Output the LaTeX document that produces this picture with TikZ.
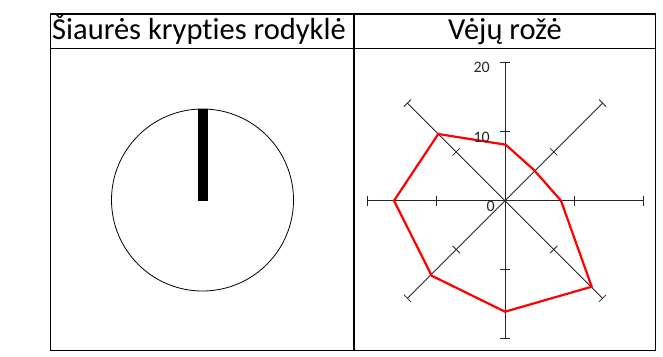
\documentclass[tikz,border=0pt]{standalone}
\usepackage{fontspec}
\setmainfont{Carlito}[Ligatures={NoCommon}]
\tikzset{
  grid line/.style={line width=1.3pt, black},
  head text/.style={font=\fontsize{30.5}{31}\selectfont, inner sep=0pt},
  axis line/.style={line width=0.8pt, black!85},
  rose line/.style={line width=2.2pt, red, line join=miter},
  num label/.style={font=\fontsize{16}{17}\selectfont, inner sep=0pt, anchor=east, text=black!85}
}
\begin{document}
\begin{tikzpicture}[x=1pt,y=-1pt]
\useasboundingbox (0,0) rectangle (663,356);
% table
\draw[grid line] (50.5,14) rectangle (655.5,350.5);
\draw[grid line] (50.5,48.5) -- (655.5,48.5);
\draw[grid line] (354,14) -- (354,350.5);
\node[head text, anchor=base west] (h1) at (52,39.5) {Šiaurės krypties rodyklė};
\node[head text, anchor=base] (h2) at (505,39.5) {Vėjų rožė};
% north arrow
\draw[line width=0.8pt] (202.5,200) circle (91);
\fill (198,109) rectangle (208,201);
% wind rose
\begin{scope}[shift={(505,200.7)}]
  \foreach \a in {0,45,90,135}{
    \begin{scope}[rotate=\a]
      \draw[axis line] (-138,0) -- (138,0);
      \foreach \d in {-138,-69,69,138}{
        \draw[axis line] (\d,-5) -- (\d,5);
      }
    \end{scope}
  }
  \draw[rose line] (0.7,-56) -- (29,-30.7) -- (56,0) -- (86.7,86) -- (0,111)
    -- (-73.3,75) -- (-111,0) -- (-66.7,-66.7) -- cycle;
  \node[num label] (l20) at (-15,-133) {20};
  \node[num label] (l10) at (-15,-63.4) {10};
  \node[num label] (l0) at (-10,5.3) {0};
\end{scope}
\end{tikzpicture}
\end{document}
